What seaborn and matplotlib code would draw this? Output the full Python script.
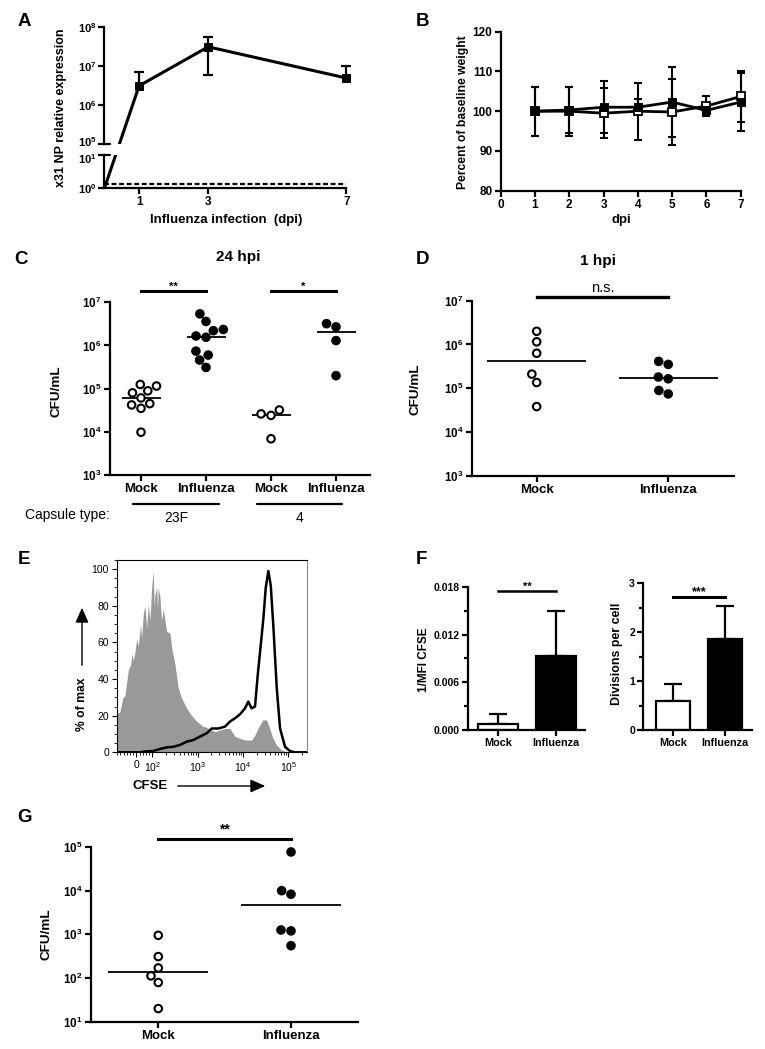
import numpy as np
import pandas as pd
import matplotlib
matplotlib.use("Agg")
import matplotlib.pyplot as plt
import seaborn as sns
from matplotlib.lines import Line2D
from matplotlib.patches import FancyArrowPatch
from matplotlib.ticker import NullLocator, MultipleLocator, FixedLocator
from matplotlib.transforms import blended_transform_factory, IdentityTransform, ScaledTranslation

# ---------------- Panel A: x31 NP expression ----------------
a_days = [1, 3, 7]
a_np_expr = [3.1e6, 3.1e7, 4.9e6]
a_np_sd = [3.9e6, 2.5e7, 5.1e6]
a_baseline_day = 0
a_baseline_val = 1.0
a_mock_days = [0, 1, 3, 7]
a_mock_expr = [1.3, 1.3, 1.3, 1.3]
a_xticks = [1, 3, 7]

# ---------------- Panel B: weight ----------------
b_days = [1, 2, 3, 4, 5, 6, 7]
b_filled = [100.0, 100.3, 101.0, 101.0, 102.3, 100.2, 102.3]
b_filled_sd = [6.2, 5.8, 6.5, 2.0, 8.8, 1.0, 7.4]
b_open = [100.0, 100.0, 99.5, 100.0, 99.8, 101.3, 103.7]
b_open_sd = [6.2, 6.2, 6.3, 7.2, 8.2, 2.6, 6.3]

# ---------------- Panel C: 24 hpi ----------------
c_groups = ["Mock 23F", "Influenza 23F", "Mock 4", "Influenza 4"]
c_infection = ["Mock", "Influenza", "Mock", "Influenza"]
c_mock_23f = [1.15e5, 1.25e5, 8.0e4, 8.9e4, 6.1e4, 4.2e4, 3.5e4, 4.5e4, 9.8e3]
c_flu_23f = [5.4e6, 3.6e6, 2.2e6, 2.35e6, 1.55e6, 1.66e6, 7.4e5, 6.0e5, 4.6e5, 3.1e5]
c_mock_4 = [2.6e4, 2.4e4, 3.2e4, 6.9e3]
c_flu_4 = [2.7e6, 3.2e6, 1.3e6, 2.0e5]
c_capsules = ["23F", "4"]

# ---------------- Panel D: 1 hpi ----------------
d_groups = ["Mock", "Influenza"]
d_mock = [2.0e6, 1.15e6, 6.3e5, 2.1e5, 1.35e5, 3.8e4]
d_flu = [3.5e5, 4.1e5, 1.8e5, 1.64e5, 7.4e4, 8.9e4]

# ---------------- Panel E: CFSE histogram ----------------
e_shaded_cfse = [-121, -103, -86, -72, -51, -36, -28, -20, -9, 1, 11, 26, 32, 43, 53, 64,
                 74, 84, 95, 104, 109, 113, 124, 129, 134, 146, 158, 173, 206, 243, 265,
                 314, 371, 441, 569, 732, 944, 1320, 1440, 2390, 3970, 5140, 6640, 11000,
                 15400, 18300, 21200, 27300, 32900, 38900, 45200, 54500, 70000, 91000,
                 138000, 263000]
e_shaded_pct = [21, 22, 29.5, 31, 45, 48, 54, 50, 55, 62, 58, 70, 62, 76, 80, 68,
                81, 72, 90, 99, 80, 86, 90, 78, 90, 85, 72, 78, 66, 65, 57,
                48, 35, 29.5, 24, 20, 17, 14, 14, 11.3, 13, 13, 8.6, 6.7,
                6.7, 9.5, 13, 17.7, 17.7, 13, 7.7, 4, 1.3, 0.4,
                0, 0]
e_outline_cfse = [-121, 30, 43, 104, 146, 206, 288, 403, 569, 795, 1120, 1570, 2030, 2840,
                  3970, 5140, 6640, 8570, 11000, 13000, 15400, 18300, 21000, 23700, 28000,
                  31600, 36100, 40800, 46700, 55300, 65400, 84300, 108000, 138000, 263000]
e_outline_pct = [0, 0, 0.4, 0.7, 1.8, 2.7, 3, 4, 5.8, 6.7, 8.6, 10.4, 13, 13,
                 14, 16.8, 18.6, 20.8, 24, 27.7, 24, 25, 42, 55, 73,
                 90, 99, 91, 68, 35, 13, 3, 0.7, 0, 0]

# ---------------- Panel F: bars ----------------
f_groups = ["Mock", "Influenza"]
f_mfi_mean = [0.0007, 0.0093]
f_mfi_sd = [0.0013, 0.0057]
f_div_mean = [0.59, 1.87]
f_div_sd = [0.36, 0.67]

# ---------------- Panel G ----------------
g_groups = ["Mock", "Influenza"]
g_mock = [950, 310, 170, 112, 79, 20]
g_flu = [7.7e4, 1.0e4, 8.3e3, 1.26e3, 1.2e3, 550]

# ================= style =================
sns.set_theme(style="ticks", rc={"axes.edgecolor": "black", "xtick.color": "black",
                                 "ytick.color": "black", "text.color": "black",
                                 "axes.labelcolor": "black"})
plt.rcParams["font.family"] = ["Liberation Sans", "DejaVu Sans"]
plt.rcParams["font.weight"] = "bold"
plt.rcParams["axes.labelweight"] = "bold"
plt.rcParams["mathtext.default"] = "regular"

W, H = 765, 1049
fig = plt.figure(figsize=(W / 100, H / 100), dpi=100)
fig.patch.set_facecolor("white")


def rect(x0, y0, x1, y1):
    return [x0 / W, 1 - y1 / H, (x1 - x0) / W, (y1 - y0) / H]


def ftext(x, y, s, size, weight="bold", rot=0, ha="center", va="center"):
    fig.text(x / W, 1 - y / H, s, fontsize=size, fontweight=weight, rotation=rot,
             ha=ha, va=va)


def logl(exps):
    return [r"$\mathregular{10^{%d}}$" % e for e in exps]


def prism(ax, lw=1.6, tlen=4.5, ysize=8.4, xsize=9.5):
    ax.spines["top"].set_visible(False)
    ax.spines["right"].set_visible(False)
    for s in ("left", "bottom"):
        ax.spines[s].set_linewidth(lw)
        ax.spines[s].set_color("black")
    ax.tick_params(which="major", direction="out", length=tlen, width=lw, color="black", pad=1.5)
    ax.tick_params(which="minor", direction="out", length=tlen * 0.6, width=lw, color="black")
    ax.tick_params(axis="y", labelsize=ysize)
    ax.tick_params(axis="x", labelsize=xsize)
    ax.set_xlabel("")
    ax.set_ylabel("")
    ax.grid(False)


def sigbar(ax, x0, x1, yfrac, text, size, offset, weight="bold", lw=2.2):
    tr = blended_transform_factory(ax.transData, ax.transAxes)
    ax.plot([x0, x1], [yfrac, yfrac], transform=tr, color="black", lw=lw, clip_on=False,
            solid_capstyle="projecting")
    ax.annotate(text, xy=((x0 + x1) / 2, yfrac), xycoords=tr, xytext=(0, offset),
                textcoords="offset points", ha="center", va="baseline", fontsize=size,
                fontweight=weight, annotation_clip=False)


def dotplot(ax, groups, infections, values, mwidth):
    counts = [len(v) for v in values]
    df = pd.DataFrame({
        "group": np.repeat(groups, counts),
        "infection": np.repeat(infections, counts),
        "cfu": np.concatenate([np.asarray(v, float) for v in values]),
    })
    sns.swarmplot(data=df, x="group", y="cfu", hue="infection", order=groups,
                  palette={"Mock": "white", "Influenza": "black"}, size=5.4,
                  edgecolor="black", linewidth=1.5, log_scale=True, legend=False,
                  ax=ax, zorder=3)
    for i, v in enumerate(values):
        ax.hlines(np.median(v), i - mwidth / 2, i + mwidth / 2, colors="black", lw=1.3, zorder=2)


# ================= Panel A =================
axA = fig.add_axes(rect(104.5, 27, 346.5, 144))
axA0 = fig.add_axes(rect(104.5, 155, 346.5, 188))
for ax in (axA, axA0):
    ax.set_yscale("log")
sns.lineplot(x=a_days, y=a_np_expr, ax=axA, color="black", lw=2.2, marker="s",
             markersize=5.5, markeredgecolor="black", clip_on=False, zorder=4)
a_x = np.array(a_days, float)
a_mean = np.array(a_np_expr)
a_sdv = np.array(a_np_sd)
a_hi = a_mean + a_sdv
a_lo = a_mean - a_sdv
has_lo = a_lo > 0
axA.vlines(a_x, a_mean, a_hi, colors="black", lw=1.6, clip_on=False)
axA.plot(a_x, a_hi, ls="none", marker="_", ms=7, mew=1.6, color="black", clip_on=False)
axA.vlines(a_x[has_lo], a_lo[has_lo], a_mean[has_lo], colors="black", lw=1.6)
axA.plot(a_x[has_lo], a_lo[has_lo], ls="none", marker="_", ms=7, mew=1.6, color="black")
axA0.plot(a_mock_days, a_mock_expr, color="black", lw=1.6, dashes=(2.2, 1.2), clip_on=False)

for ax in (axA, axA0):
    ax.set_xlim(0, 7)
axA.set_ylim(1e5, 1e8)
axA0.set_ylim(1, 10)
prism(axA, ysize=8.0, xsize=8.5)
prism(axA0, ysize=8.0, xsize=8.5)
axA.spines["bottom"].set_visible(False)
axA.tick_params(axis="x", bottom=False, labelbottom=False)
axA.set_yticks([10.0 ** e for e in range(5, 9)], logl(range(5, 9)))
axA.yaxis.set_minor_locator(NullLocator())
axA0.set_yticks([1.0, 10.0], logl([0, 1]))
axA0.yaxis.set_minor_locator(NullLocator())
axA0.set_xticks(a_xticks, [str(d) for d in a_xticks])
# nudge the two labels either side of the axis break apart a little
lab_top = axA.yaxis.get_major_ticks()[0].label1
lab_top.set_transform(lab_top.get_transform() + ScaledTranslation(0, 2.2 / 72, fig.dpi_scale_trans))
lab_bot = axA0.yaxis.get_major_ticks()[1].label1
lab_bot.set_transform(lab_bot.get_transform() + ScaledTranslation(0, -2.2 / 72, fig.dpi_scale_trans))
# break marks
axA.plot([0, 0.022], [0, 0], transform=axA.transAxes, color="black", lw=1.6, clip_on=False)
axA0.plot([0, 0.022], [1, 1], transform=axA0.transAxes, color="black", lw=1.6, clip_on=False)
# line from baseline to day 1 drawn straight across the axis break
p0 = axA0.transData.transform((a_baseline_day, a_baseline_val))
p1 = axA.transData.transform((a_days[0], a_np_expr[0]))
for ax in (axA, axA0):
    ln = Line2D([p0[0], p1[0]], [p0[1], p1[1]], transform=IdentityTransform(),
                color="black", lw=2.2)
    ax.add_line(ln)
ftext(61, 107.5, "x31 NP relative expression", 9, rot=90)
ftext(226, 219.5, "Influenza infection  (dpi)", 9.5)

# ================= Panel B =================
axB = fig.add_axes(rect(500.7, 31.7, 740.7, 190.7))
for vals, sds in ((b_open, b_open_sd), (b_filled, b_filled_sd)):
    eb = axB.errorbar(b_days, vals, yerr=sds, fmt="none", ecolor="black", elinewidth=1.5,
                      capsize=3.2, capthick=1.5, zorder=2)
    for art in eb.get_children():
        art.set_clip_on(False)
sns.lineplot(x=b_days, y=b_open, ax=axB, color="black", lw=2.0, marker="s", markersize=5.5,
             markerfacecolor="white", markeredgecolor="black", markeredgewidth=1.3,
             clip_on=False, zorder=3)
sns.lineplot(x=b_days, y=b_filled, ax=axB, color="black", lw=2.0, marker="s", markersize=5.5,
             markerfacecolor="black", markeredgecolor="black", clip_on=False, zorder=4)
axB.set_xlim(0, 7)
axB.set_ylim(80, 120)
prism(axB, ysize=8.5, xsize=8.5)
axB.set_xticks(range(0, 8), [str(i) for i in range(0, 8)])
axB.set_yticks(range(80, 121, 10), [str(i) for i in range(80, 121, 10)])
ftext(463, 112, "Percent of baseline weight", 8.7, rot=90)
ftext(621, 220.5, "dpi", 9.5)

# ================= Panel C =================
axC = fig.add_axes(rect(110, 302.3, 370, 475))
c_values = [c_mock_23f, c_flu_23f, c_mock_4, c_flu_4]
dotplot(axC, c_groups, c_infection, c_values, 0.6)
axC.set_xlim(-0.477, 3.523)
axC.set_ylim(1e3, 1e7)
prism(axC)
axC.set_yticks([10.0 ** e for e in range(3, 8)], logl(range(3, 8)))
axC.yaxis.set_minor_locator(NullLocator())
axC.set_xticks(range(4), c_infection)
sigbar(axC, 0, 1, 1.064, "**", 8, 1)
sigbar(axC, 2, 3, 1.064, "*", 8, 1)
trC = blended_transform_factory(axC.transData, axC.transAxes)
axC.plot([-0.12, 1.2], [-0.17, -0.17], transform=trC, color="black", lw=1.6, clip_on=False)
axC.plot([1.785, 3.09], [-0.17, -0.17], transform=trC, color="black", lw=1.6, clip_on=False)
ftext(25, 515, "Capsule type:", 10, weight="normal", ha="left")
ftext(176.7, 518.5, c_capsules[0], 10, weight="normal")
ftext(299, 518.5, c_capsules[1], 10, weight="normal")
ftext(238, 257, "24 hpi", 11)
ftext(57, 391, "CFU/mL", 9.7, rot=90)

# ================= Panel D =================
axD = fig.add_axes(rect(471.7, 300.7, 734, 475.7))
dotplot(axD, d_groups, d_groups, [d_mock, d_flu], 0.75)
axD.set_xlim(-0.494, 1.5)
axD.set_ylim(1e3, 1e7)
prism(axD)
axD.set_yticks([10.0 ** e for e in range(3, 8)], logl(range(3, 8)))
axD.yaxis.set_minor_locator(NullLocator())
axD.set_xticks(range(2), d_groups)
sigbar(axD, 0, 1, 1.019, "n.s.", 10.5, 3.8, weight="normal", lw=2.4)
ftext(597.5, 261, "1 hpi", 11)
ftext(415.5, 389, "CFU/mL", 9.7, rot=90)

# ================= Panel E =================
axE = fig.add_axes(rect(116.7, 560, 307.3, 752.3))
axE.set_xscale("symlog", linthresh=100, linscale=0.318)
axE.fill_between(e_shaded_cfse, e_shaded_pct, 0, color="#999999", lw=0, zorder=1)
sns.lineplot(x=e_outline_cfse, y=e_outline_pct, ax=axE, color="black", lw=1.8,
             estimator=None, sort=False, zorder=3)
axE.set_xlim(-121, 2.61e5)
axE.set_ylim(0, 105)
for s in axE.spines.values():
    s.set_visible(True)
    s.set_linewidth(0.8)
    s.set_color("black")
axE.spines["right"].set_color("#888888")
axE.set_xlabel("")
axE.set_ylabel("")
axE.grid(False)
axE.set_xticks([0, 1e2, 1e3, 1e4, 1e5], ["0"] + logl(range(2, 6)), fontweight="normal", fontsize=7.5)
e_minor = ([-120, -100, -80, -60, -40, -20, 20, 40, 60, 80]
           + [k * 10 ** d for d in range(2, 5) for k in range(2, 10)] + [2e5])
axE.xaxis.set_minor_locator(FixedLocator(e_minor))
axE.set_yticks(range(0, 101, 20), [str(i) for i in range(0, 101, 20)], fontweight="normal",
               fontsize=7.5)
axE.yaxis.set_minor_locator(MultipleLocator(5))
axE.tick_params(which="major", direction="out", length=3.5, width=0.8, pad=2)
axE.tick_params(which="minor", direction="out", length=2, width=0.6)
ftext(150.5, 786, "CFSE", 9.5)
ftext(82, 704.5, "% of max", 8.7, rot=90)
fig.add_artist(FancyArrowPatch((175 / W, 1 - 786 / H), (268 / W, 1 - 786 / H),
                               transform=fig.transFigure,
                               arrowstyle="-|>,head_length=0.45,head_width=0.2",
                               mutation_scale=20, color="black", lw=1.0))
fig.add_artist(FancyArrowPatch((82 / W, 1 - 668 / H), (82 / W, 1 - 605 / H),
                               transform=fig.transFigure,
                               arrowstyle="-|>,head_length=0.45,head_width=0.2",
                               mutation_scale=20, color="black", lw=1.0))

# ================= Panel F =================
axF1 = fig.add_axes(rect(468.3, 587, 585, 729.7))
sns.barplot(x=f_groups, y=f_mfi_mean, hue=f_groups, palette={"Mock": "white", "Influenza": "black"},
            edgecolor="black", linewidth=1.6, width=0.69, legend=False, errorbar=None, ax=axF1)
axF1.errorbar(range(2), f_mfi_mean, yerr=[np.zeros(2), f_mfi_sd], fmt="none", ecolor="black",
              elinewidth=1.6, capsize=6.5, capthick=1.6, zorder=0.9)
axF1.set_xlim(-0.516, 1.506)
axF1.set_ylim(0, 0.018)
prism(axF1, ysize=7.5, xsize=7.8)
axF1.set_yticks([0, 0.006, 0.012, 0.018], ["0.000", "0.006", "0.012", "0.018"])
axF1.yaxis.set_minor_locator(MultipleLocator(0.003))
axF1.set_xticks(range(2), f_groups)
sigbar(axF1, 0, 1, 0.972, "**", 8, 0.5, lw=1.8)
ftext(424, 659.5, "1/MFI CFSE", 8.5, rot=90)

axF2 = fig.add_axes(rect(643.3, 583.3, 751.7, 730))
sns.barplot(x=f_groups, y=f_div_mean, hue=f_groups, palette={"Mock": "white", "Influenza": "black"},
            edgecolor="black", linewidth=1.6, width=0.65, legend=False, errorbar=None, ax=axF2)
axF2.errorbar(range(2), f_div_mean, yerr=[np.zeros(2), f_div_sd], fmt="none", ecolor="black",
              elinewidth=1.6, capsize=6.3, capthick=1.6, zorder=0.9)
axF2.set_xlim(-0.571, 1.513)
axF2.set_ylim(0, 3)
prism(axF2, ysize=7.5, xsize=7.8)
axF2.set_yticks([0, 1, 2, 3], ["0", "1", "2", "3"])
axF2.yaxis.set_minor_locator(MultipleLocator(0.5))
axF2.set_xticks(range(2), f_groups)
sigbar(axF2, 0, 1, 0.909, "***", 9, 1, lw=2.2)
ftext(617, 654, "Divisions per cell", 8.9, rot=90)

# ================= Panel G =================
axG = fig.add_axes(rect(90.7, 847, 358.3, 1021.7))
dotplot(axG, g_groups, g_groups, [g_mock, g_flu], 0.75)
axG.set_xlim(-0.509, 1.507)
axG.set_ylim(10, 1e5)
prism(axG)
axG.set_yticks([10.0 ** e for e in range(1, 6)], logl(range(1, 6)))
axG.yaxis.set_minor_locator(NullLocator())
axG.set_xticks(range(2), g_groups)
sigbar(axG, 0, 1, 1.046, "**", 10, 4.3)
ftext(46, 934.5, "CFU/mL", 9.7, rot=90)

# ================= panel letters =================
for letter, (x, y) in {"A": (24.5, 21.5), "B": (422, 21), "C": (21, 259), "D": (422, 260),
                       "E": (24, 559), "F": (421.5, 559), "G": (25, 817)}.items():
    ftext(x, y, letter, 13.5)

fig.savefig("out.png", dpi=100, facecolor="white")
